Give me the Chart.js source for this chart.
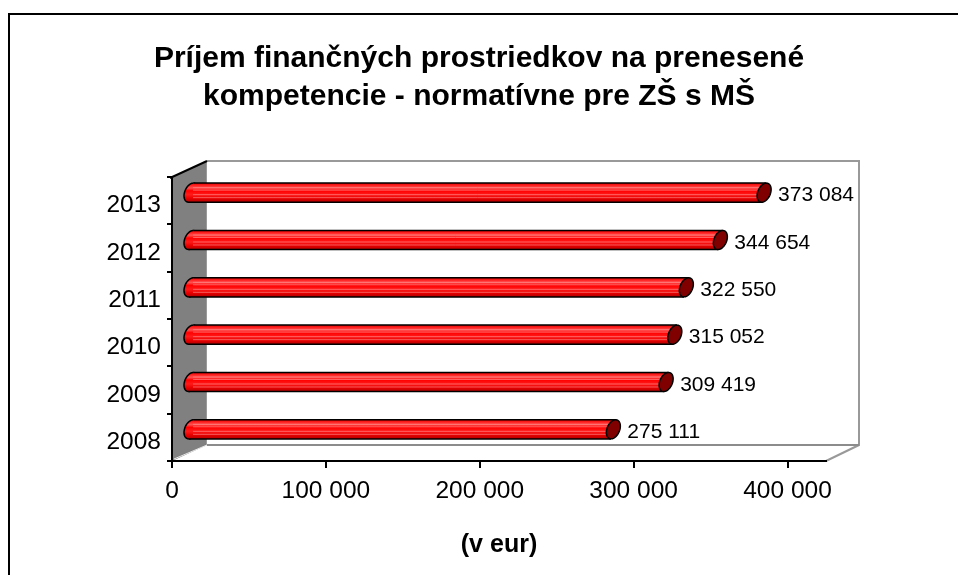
<!DOCTYPE html>
<html><head><meta charset="utf-8">
<script src="https://cdn.jsdelivr.net/npm/chart.js@4/dist/chart.umd.min.js"></script>
<style>html,body{margin:0;padding:0;background:#fff}#wrap{width:958px;height:575px}</style>
</head><body><div id="wrap"><canvas id="c" width="958" height="575"></canvas></div>
<script>
// ---- data ----
const categories = ['2008', '2009', '2010', '2011', '2012', '2013'];
const values = [275111, 309419, 315052, 322550, 344654, 373084];
const xTicks = [0, 100000, 200000, 300000, 400000];
const titleLines = ['Príjem finančných prostriedkov na prenesené', 'kompetencie - normatívne pre ZŠ s MŠ'];
const axisTitle = '(v eur)';

const FONT = "'Liberation Sans', Arial, sans-serif";
const fmt = v => String(v).replace(/\B(?=(\d{3})+(?!\d))/g, ' ');

const DEPTH = {dx: 35, dy: -16};
const SHIFT = {dx: 18, dy: -8};

const framePlugin = {
  id: 'frame3d',
  beforeDraw(chart) {
    const {ctx, chartArea: a} = chart;
    const L = a.left, R = a.right, T = a.top, B = a.bottom;
    const dx = DEPTH.dx, dy = DEPTH.dy;
    ctx.save();
    ctx.fillStyle = '#fff';
    ctx.fillRect(0, 0, chart.width, chart.height);
    // outer frame
    ctx.strokeStyle = '#000';
    ctx.lineWidth = 2;
    ctx.strokeRect(9, 14, 1000, 1000);
    // title
    ctx.fillStyle = '#000';
    ctx.font = 'bold 30px ' + FONT;
    ctx.textAlign = 'center';
    ctx.textBaseline = 'alphabetic';
    titleLines.forEach((line, i) => {
      ctx.fillText(line, chart.width / 2, 67 + i * 38);
    });
    // back wall outline
    ctx.strokeStyle = '#999';
    ctx.lineWidth = 2;
    ctx.beginPath();
    ctx.moveTo(L + dx, T + dy);
    ctx.lineTo(R + dx - 2, T + dy);
    ctx.lineTo(R + dx - 2, B + dy);
    ctx.lineTo(R, B);
    ctx.stroke();
    ctx.strokeStyle = '#8c8c8c';
    ctx.beginPath();
    ctx.moveTo(L + dx, B + dy);
    ctx.lineTo(R + dx - 2, B + dy);
    ctx.stroke();
    // side wall
    ctx.fillStyle = '#808080';
    ctx.beginPath();
    ctx.moveTo(L, T);
    ctx.lineTo(L + dx, T + dy);
    ctx.lineTo(L + dx, B + dy);
    ctx.lineTo(L, B);
    ctx.closePath();
    ctx.fill();
    ctx.strokeStyle = '#9a9a9a';
    ctx.lineWidth = 1;
    ctx.beginPath();
    ctx.moveTo(L + dx - 0.5, T + dy);
    ctx.lineTo(L + dx - 0.5, B + dy);
    ctx.stroke();
    ctx.strokeStyle = '#e8e8e8';
    ctx.beginPath();
    ctx.moveTo(L + 2, B - 2);
    ctx.lineTo(L + dx, B + dy);
    ctx.stroke();
    ctx.strokeStyle = '#000';
    ctx.lineWidth = 2;
    ctx.beginPath();
    ctx.moveTo(L - 2, T + 1);
    ctx.lineTo(L + dx, T + dy);
    ctx.stroke();
    ctx.restore();
  }
};

function ellipsePath(ctx, cx, cy, r, ax, ay) {
  ctx.beginPath();
  for (let k = 0; k <= 48; k++) {
    const t = k / 48 * Math.PI * 2;
    const px = cx + ax * Math.sin(t);
    const py = cy - r * Math.cos(t) - ay * Math.sin(t);
    if (k === 0) ctx.moveTo(px, py); else ctx.lineTo(px, py);
  }
  ctx.closePath();
}

const cylinderPlugin = {
  id: 'cylinders',
  afterDatasetsDraw(chart) {
    const ctx = chart.ctx;
    const meta = chart.getDatasetMeta(0);
    const ds = chart.data.datasets[0];
    meta.data.forEach((bar, i) => {
      const p = bar.getProps(['x', 'y', 'base', 'height'], true);
      const r = p.height / 2;
      const ax = 7, ay = 3.2;
      const cy = p.y + SHIFT.dy;
      const x0 = p.base + SHIFT.dx;
      const x1 = p.x + SHIFT.dx;
      const hh = Math.sqrt(r * r + ay * ay);
      const xo = ax * ay / hh;
      ctx.save();
      const g = ctx.createLinearGradient(0, cy - hh, 0, cy + hh);
      g.addColorStop(0, '#e00000');
      g.addColorStop(0.12, '#ff2020');
      g.addColorStop(0.25, '#ff5050');
      g.addColorStop(0.4, '#ff0000');
      g.addColorStop(0.6, '#ff1a1a');
      g.addColorStop(0.8, '#e80000');
      g.addColorStop(1, '#b00000');
      // left (back) end
      ellipsePath(ctx, x0, cy, r, ax, ay);
      ctx.fillStyle = g;
      ctx.fill();
      ctx.strokeStyle = '#000';
      ctx.lineWidth = 1.5;
      ctx.stroke();
      // body
      ctx.beginPath();
      ctx.moveTo(x0 + xo, cy - hh);
      ctx.lineTo(x1 + xo, cy - hh);
      ctx.lineTo(x1 - xo, cy + hh);
      ctx.lineTo(x0 - xo, cy + hh);
      ctx.closePath();
      ctx.fillStyle = g;
      ctx.fill();
      // streaks
      ctx.strokeStyle = 'rgba(255,160,160,0.55)';
      ctx.lineWidth = 1;
      [-5.5, -3, 1.5, 4.5].forEach(o => {
        ctx.beginPath();
        ctx.moveTo(x0 + 2, cy + o + 0.5);
        ctx.lineTo(x1 - 2, cy + o + 0.5);
        ctx.stroke();
      });
      ctx.strokeStyle = '#000';
      ctx.lineWidth = 1.5;
      ctx.beginPath();
      ctx.moveTo(x0 + xo, cy - hh);
      ctx.lineTo(x1 + xo, cy - hh);
      ctx.moveTo(x0 - xo, cy + hh);
      ctx.lineTo(x1 - xo, cy + hh);
      ctx.stroke();
      // right (front-facing) cap
      ellipsePath(ctx, x1, cy, r, ax, ay);
      ctx.fillStyle = '#800000';
      ctx.fill();
      ctx.stroke();
      // value label
      ctx.fillStyle = '#000';
      ctx.font = '21px ' + FONT;
      ctx.textAlign = 'left';
      ctx.textBaseline = 'middle';
      ctx.fillText(fmt(ds.data[i]), x1 + 14, cy + 3);
      ctx.restore();
    });
  }
};

Chart.defaults.font.family = FONT;
Chart.defaults.color = '#000';

new Chart(document.getElementById('c'), {
  type: 'bar',
  data: {
    labels: categories,
    datasets: [{
      data: values,
      backgroundColor: 'rgba(0,0,0,0)',
      borderWidth: 0,
      barThickness: 18
    }]
  },
  options: {
    responsive: false,
    animation: false,
    devicePixelRatio: 1,
    indexAxis: 'y',
    layout: {padding: {left: 0, right: 132, top: 177, bottom: 0}},
    plugins: {
      legend: {display: false},
      tooltip: {enabled: false},
      title: {display: false}
    },
    scales: {
      x: {
        type: 'linear',
        min: 0,
        max: 425000,
        afterBuildTicks: s => { s.ticks = xTicks.map(v => ({value: v})); },
        afterFit: s => { s.height = 114; },
        grid: {drawOnChartArea: false, drawTicks: true, tickLength: 7, color: '#000', lineWidth: 2},
        border: {display: true, color: '#000', width: 2},
        ticks: {color: '#000', font: {family: FONT, size: 24.5}, padding: 9, maxRotation: 0, autoSkip: false, callback: v => fmt(v)},
        title: {display: true, text: axisTitle, color: '#000', font: {family: FONT, size: 25, weight: 'bold', lineHeight: 1.2}, padding: {top: 0, bottom: 15}}
      },
      y: {
        type: 'category',
        reverse: true,
        offset: true,
        afterFit: s => { s.width = 172; },
        grid: {drawOnChartArea: false, tickLength: 5, color: '#000', lineWidth: 2, offset: true},
        border: {display: true, color: '#000', width: 2},
        ticks: {color: '#000', font: {family: FONT, size: 24.5}, padding: 6, labelOffset: 5}
      }
    }
  },
  plugins: [framePlugin, cylinderPlugin]
});
</script>
</body></html>
